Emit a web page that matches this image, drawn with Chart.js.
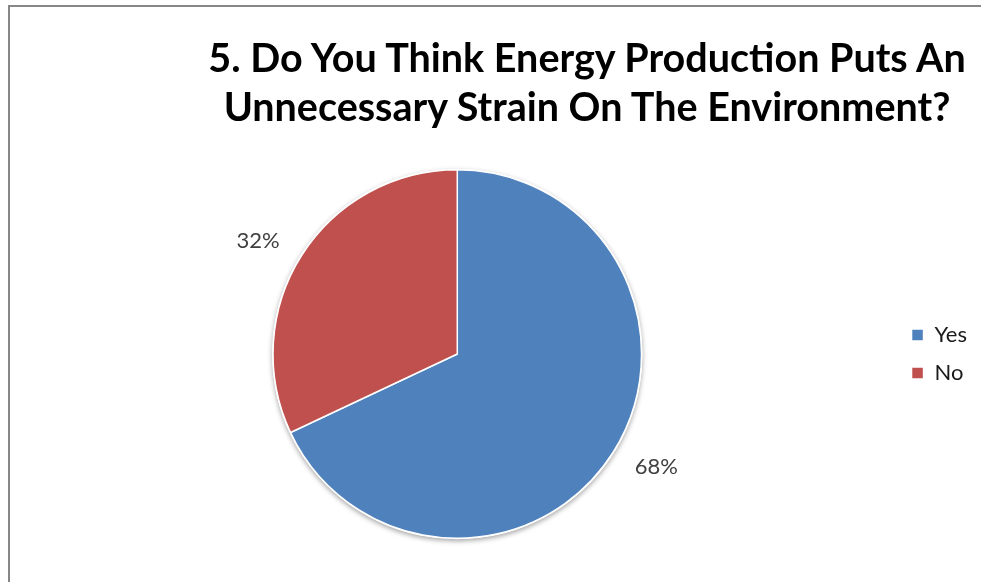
<!DOCTYPE html>
<html>
<head>
<meta charset="utf-8">
<script src="https://cdn.jsdelivr.net/npm/chart.js@4.4.1/dist/chart.umd.min.js"></script>
<style>
    html, body {
        margin: 0;
        padding: 0;
        width: 981px;
        height: 582px;
        overflow: hidden;
        background: #ffffff;
    }
    #frame {
        position: absolute;
        left: 8px;
        top: 5px;
        width: 2000px;
        height: 2000px;
        border-left: 2px solid #878787;
        border-top: 2px solid #878787;
    }
    #title {
        position: absolute;
        left: 87px;
        top: 32px;
        width: 1000px;
        text-align: center;
        font: bold 39.5px Lato, sans-serif;
        line-height: 49px;
        color: #000000;
    }
    #wrap {
        position: absolute;
        left: 0;
        top: 0;
        width: 981px;
        height: 582px;
    }
</style>
</head>
<body>
<div id="frame"></div>
<div id="wrap"><canvas id="pie-chart"></canvas></div>
<div id="title">5. Do You Think Energy Production Puts An<br>Unnecessary Strain On The Environment?</div>
<script>
const answers = ["Yes", "No"];
const shares = [68, 32];
const sliceColors = ["#4f81bd", "#c0504d"];

// soft grey rim behind the pie, like the office chart
const pieShadow = {
    id: "pieShadow",
    beforeDatasetsDraw(chart) {
        const arc = chart.getDatasetMeta(0).data[0];
        if (!arc) return;
        const { x, y, outerRadius } = arc.getProps(["x", "y", "outerRadius"], true);
        const c = chart.ctx;
        c.save();
        c.shadowColor = "rgba(0, 0, 0, 0.35)";
        c.shadowBlur = 5;
        c.shadowOffsetY = 2;
        c.fillStyle = "#ffffff";
        c.beginPath();
        c.arc(x, y, outerRadius + 1, 0, Math.PI * 2);
        c.fill();
        c.restore();
    },
};

// percentage labels outside each slice
const outsideLabels = {
    id: "outsideLabels",
    afterDatasetsDraw(chart) {
        const meta = chart.getDatasetMeta(0);
        const values = chart.data.datasets[0].data;
        const total = values.reduce((a, b) => a + b, 0);
        const c = chart.ctx;
        c.save();
        c.font = "22px Lato, sans-serif";
        c.fillStyle = "#404040";
        c.textBaseline = "middle";
        meta.data.forEach((arc, i) => {
            const p = arc.getProps(["x", "y", "startAngle", "endAngle", "outerRadius"], true);
            const mid = (p.startAngle + p.endAngle) / 2;
            const dist = p.outerRadius + 26;
            const lx = p.x + Math.cos(mid) * dist;
            const ly = p.y + Math.sin(mid) * dist;
            c.textAlign = Math.cos(mid) < 0 ? "right" : "left";
            c.fillText(Math.round(values[i] / total * 100) + "%", lx, ly);
        });
        c.restore();
    },
};

const ctx = document.getElementById("pie-chart");

let chart = new Chart(ctx, {
    type: "pie",
    data: {
        labels: answers,
        datasets: [
            {
                data: shares,
                backgroundColor: sliceColors,
                borderColor: "#ffffff",
                borderWidth: 1.5,
            },
        ],
    },
    options: {
        responsive: true,
        maintainAspectRatio: false,
        animation: false,
        layout: {
            padding: { top: 169, bottom: 43, left: 19, right: 4 },
        },
        plugins: {
            title: { display: false },
            tooltip: { enabled: false },
            legend: {
                position: "right",
                labels: {
                    boxWidth: 12,
                    boxHeight: 12,
                    padding: 16,
                    color: "#1a1a1a",
                    font: { family: "Lato", size: 22 },
                },
            },
        },
    },
    plugins: [pieShadow, outsideLabels],
});
</script>
</body>
</html>
